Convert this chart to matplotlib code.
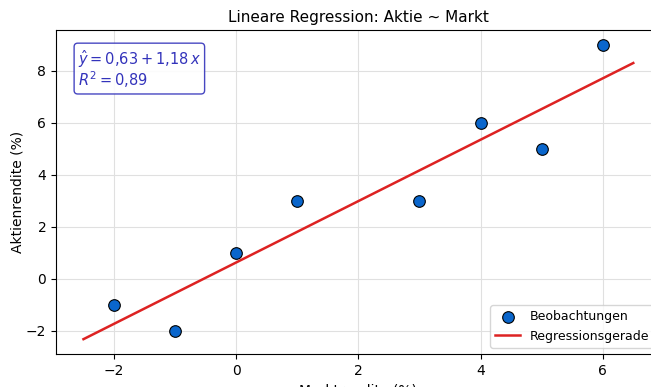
import numpy as np
import matplotlib.pyplot as plt

markt = [-2, -1, 0, 1, 3, 4, 5, 6]
aktie = [-1, -2, 1, 3, 3, 6, 5, 9]
intercept = 0.63
slope = 1.18
r2 = 0.89
line_x = [-2.5, 6.5]

fig = plt.figure(figsize=(6.51, 3.87), dpi=100)
ax = fig.add_axes([0.086, 0.0853, 0.929, 0.8372])

ax.scatter(markt, aktie, s=70, color='#0a66cc', edgecolor='black', linewidth=0.8,
           zorder=3, label='Beobachtungen')
ly = [intercept + slope * v for v in line_x]
ax.plot(line_x, ly, color='#dd2222', lw=1.8, label='Regressionsgerade', zorder=2)

ax.set_xlim(-2.95, 6.95)
ax.set_ylim(-2.89, 9.57)
ax.set_xticks([-2, 0, 2, 4, 6])
ax.set_yticks([-2, 0, 2, 4, 6, 8])
ax.grid(True, color='#e0e0e0', lw=0.8)
ax.set_axisbelow(True)
ax.set_title('Lineare Regression: Aktie ~ Markt', fontsize=11)
ax.set_xlabel('Marktrendite (%)', fontsize=10)
ax.set_ylabel('Aktienrendite (%)', fontsize=10, labelpad=1)

txt = '$\\hat{y} = 0{,}63 + 1{,}18\\,x$\n$R^2 = 0{,}89$'
ax.text(0.036, 0.945, txt, transform=ax.transAxes, va='top', ha='left',
        fontsize=10.5, color='#3333bb', linespacing=1.0,
        bbox=dict(boxstyle='round,pad=0.25', facecolor='white', edgecolor='#3333bb', alpha=0.9))

ax.legend(loc='lower right', fontsize=9)

fig.savefig('out.png', dpi=100)
